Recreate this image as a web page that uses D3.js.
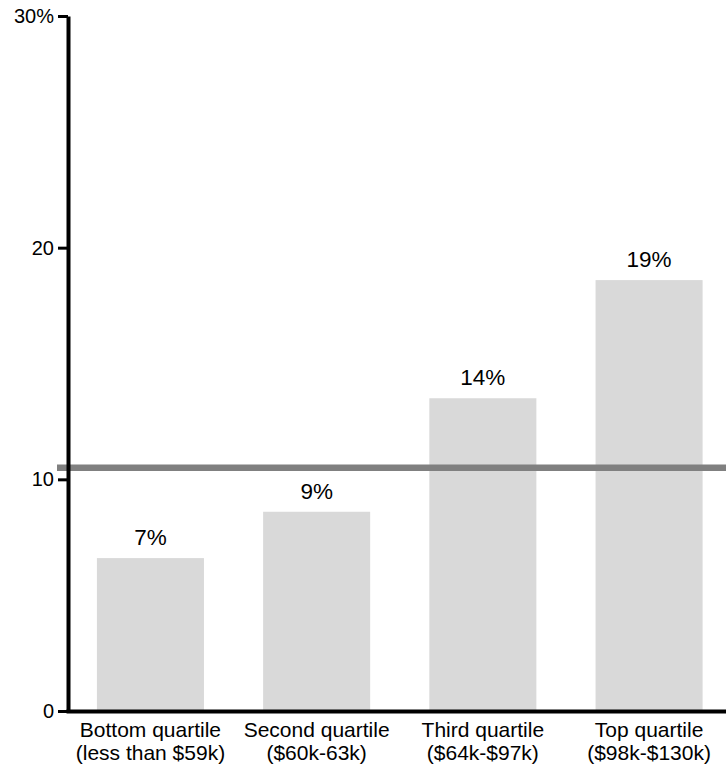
<!DOCTYPE html>
<html>
<head>
<meta charset="utf-8">
<script src="https://cdn.jsdelivr.net/npm/d3@7/dist/d3.min.js"></script>
<style>
  html, body { margin: 0; padding: 0; background: #fff; }
  svg { display: block; font-family: "Liberation Sans", Arial, sans-serif; }
</style>
</head>
<body>
<svg id="chart" width="726" height="766"></svg>
<script>
const categories = ["Bottom quartile", "Second quartile", "Third quartile", "Top quartile"];
const subLabels = ["(less than $59k)", "($60k-63k)", "($64k-$97k)", "($98k-$130k)"];
const values = [6.6, 8.6, 13.5, 18.6];
const valueLabels = ["7%", "9%", "14%", "19%"];
const tickValues = [0, 10, 20, 30];
const tickLabels = ["0", "10", "20", "30%"];
const referenceValue = 10.5;

const svg = d3.select("#chart");
const axisX = 68;

const y = d3.scaleLinear().domain([0, 30]).range([711, 16]);
const x = d3.scaleBand().domain(categories).range([66, 733.5])
  .paddingInner(0.356).paddingOuter(0.186);

// bars
svg.append("g").selectAll("rect").data(values).join("rect")
  .attr("x", (d, i) => x(categories[i]))
  .attr("width", x.bandwidth())
  .attr("y", d => y(d))
  .attr("height", d => y(0) - y(d))
  .attr("fill", "#d9d9d9");

// value labels
svg.append("g").selectAll("text").data(values).join("text")
  .attr("x", (d, i) => x(categories[i]) + x.bandwidth() / 2)
  .attr("y", d => y(d) - 13)
  .attr("text-anchor", "middle")
  .attr("font-size", 22.5)
  .attr("fill", "#000")
  .text((d, i) => valueLabels[i]);

// reference line
svg.append("line")
  .attr("x1", 57).attr("x2", 726)
  .attr("y1", y(referenceValue)).attr("y2", y(referenceValue))
  .attr("stroke", "#808080").attr("stroke-width", 6.5);

// x axis (baseline)
const gx = svg.append("g").attr("transform", `translate(0,${y(0)})`)
  .call(d3.axisBottom(x).tickSize(0).tickSizeOuter(0).tickFormat(""));
gx.select(".domain").attr("stroke", "#000").attr("stroke-width", 4);

// category labels
const cat = svg.append("g").selectAll("text").data(categories).join("text")
  .attr("x", d => x(d) + x.bandwidth() / 2)
  .attr("y", 737)
  .attr("text-anchor", "middle")
  .attr("font-size", 21)
  .attr("fill", "#000");
cat.append("tspan").attr("x", d => x(d) + x.bandwidth() / 2).text(d => d);
cat.append("tspan").attr("x", d => x(d) + x.bandwidth() / 2).attr("dy", 23)
  .text((d, i) => subLabels[i]);

// y axis
const gy = svg.append("g").attr("transform", `translate(${axisX},0)`)
  .call(d3.axisLeft(y).tickValues(tickValues).tickSize(10).tickSizeOuter(0).tickPadding(4)
    .tickFormat((d, i) => tickLabels[i]));
gy.select(".domain").attr("stroke", "#000").attr("stroke-width", 4);
gy.selectAll(".tick line").attr("stroke", "#000").attr("stroke-width", 3);
gy.selectAll(".tick text").attr("font-size", 20).attr("fill", "#000")
  .attr("font-family", "'Liberation Sans', Arial, sans-serif");
</script>
</body>
</html>
